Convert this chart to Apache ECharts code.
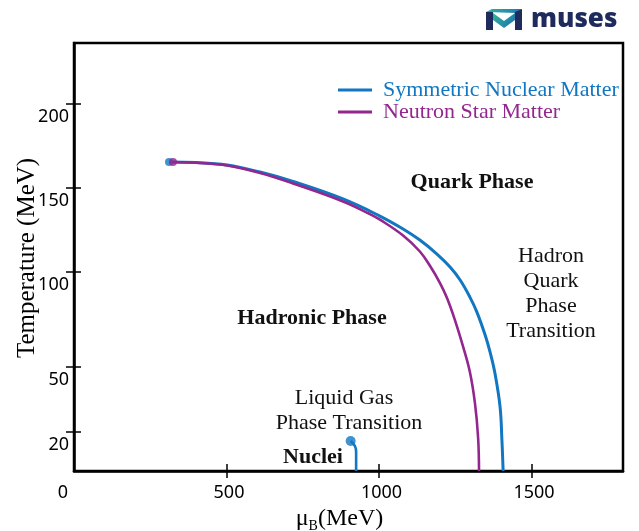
<!DOCTYPE html>
<html><head><meta charset="utf-8">
<script src="https://cdn.jsdelivr.net/npm/echarts@6/dist/echarts.min.js"></script>
<style>html,body{margin:0;padding:0;background:#fff}#c{width:639px;height:531px}</style>
</head><body><div id="c"></div>
<script>
// ---- data (mu_B in MeV, T in MeV) ----
const snmMu = [311.5, 400, 502, 610, 718, 882, 1003, 1079, 1134, 1190, 1233, 1266, 1298, 1321, 1348, 1364, 1380, 1397, 1403, 1407];
const snmT  = [165.5, 165.2, 163.7, 159.5, 153.9, 143.5, 133.3, 125.6, 119.0, 110.7, 103.0, 95.8, 86.8, 78.9, 66.8, 57.9, 47.2, 31.5, 15.9, 0];
const nsmMu = [324.6, 400, 502, 610, 718, 882, 970, 1003, 1079, 1134, 1167, 1200, 1223, 1249, 1275, 1298, 1315, 1325, 1328];
const nsmT  = [165.5, 165.0, 163.4, 158.9, 152.7, 142.0, 134.5, 131.2, 121.7, 112.2, 103.7, 94.2, 86.3, 74.7, 61.1, 47.7, 32.9, 16.9, 0];
const lgMu  = [907, 921, 925, 925];
const lgT   = [15.4, 12.8, 9.7, 0];
const snmCP = [311.5, 165.5];
const nsmCP = [324.6, 165.5];
const lgCP  = [907, 15.4];
const xTicks = [0, 500, 1000, 1500];
const yTicks = [20, 50, 100, 150, 200];
const seriesNames = ['Symmetric Nuclear Matter', 'Neutron Star Matter'];

// ---- non-uniform temperature scale of the schematic (T -> axis units) ----
const scaleT   = [0, 20, 50, 100, 150, 200];
const scalePos = [0, 39, 104, 199, 283, 367];
function toAxis(T) {
  for (let i = 1; i < scaleT.length; i++) {
    if (T <= scaleT[i] || i === scaleT.length - 1) {
      const t0 = scaleT[i-1], t1 = scaleT[i], p0 = scalePos[i-1], p1 = scalePos[i];
      return p0 + (T - t0) * (p1 - p0) / (t1 - t0);
    }
  }
}
function fromAxis(v) {
  for (let i = 0; i < scalePos.length; i++) if (Math.abs(scalePos[i] - v) < 1e-6) return scaleT[i];
  return '';
}
const pts = (mu, T) => mu.map((m, i) => [m, toAxis(T[i])]);

const BLUE = '#1177c2', PURPLE = '#93278f';
const serif = 'Liberation Serif';
const sans = 'Noto Sans';

const chart = echarts.init(document.getElementById('c'));
const tickY = yTicks.map(toAxis);

const option = {
  backgroundColor: '#fff',
  animation: false,
  grid: { left: 74, right: 16, top: 43, bottom: 60, show: true, borderColor: '#000', borderWidth: 2.5,
          containLabel: false, outerBoundsMode: 'none' },
  legend: {
    orient: 'vertical', left: 333, top: 74, itemGap: 0,
    itemWidth: 34, itemHeight: 3, icon: 'rect',
    textStyle: { fontFamily: serif, fontSize: 22, lineHeight: 21, padding: [0, 0, 0, 6] },
    data: [
      { name: seriesNames[0], textStyle: { color: BLUE } },
      { name: seriesNames[1], textStyle: { color: PURPLE } }
    ]
  },
  xAxis: [{
    type: 'value', min: 0, max: 1800, interval: 500,
    splitLine: { show: false },
    axisLine: { show: true, onZero: false, lineStyle: { color: '#000', width: 2.5 } },
    axisTick: { show: true, inside: false, length: 7, customValues: xTicks.slice(1), lineStyle: { color: '#000', width: 1.5 } },
    axisLabel: {
      customValues: xTicks, margin: 13, hideOverlap: false,
      fontFamily: sans, fontSize: 18, color: '#000',
      formatter: v => v === 0 ? '{z|0}' : '{n|' + v + '}',
      rich: { z: { fontFamily: sans, fontSize: 18, color: '#000', padding: [0, 22, 0, 0] },
              n: { fontFamily: sans, fontSize: 18, color: '#000', padding: [0, 0, 0, 5] } }
    },
    name: '{a|μ}{b|B}{a|(MeV)}', nameLocation: 'middle', nameGap: 28,
    nameTextStyle: {
      padding: [0, 18, 0, 0],
      rich: { a: { fontFamily: serif, fontSize: 24, color: '#000', lineHeight: 28 },
              b: { fontFamily: serif, fontSize: 14, color: '#000', lineHeight: 14, verticalAlign: 'bottom' } }
    }
  }, {
    type: 'value', min: 0, max: 1800, interval: 500, position: 'bottom',
    splitLine: { show: false }, axisLine: { show: false }, axisLabel: { show: false },
    axisTick: { show: true, inside: true, length: 7, customValues: xTicks.slice(1), lineStyle: { color: '#000', width: 1.5 } }
  }],
  yAxis: [{
    type: 'value', min: 0, max: 428,
    splitLine: { show: false },
    axisLine: { show: true, onZero: false, lineStyle: { color: '#000', width: 2.5 } },
    axisTick: { show: true, inside: false, length: 8, customValues: tickY, lineStyle: { color: '#000', width: 1.5 } },
    axisLabel: {
      customValues: tickY, margin: 5, fontFamily: sans, fontSize: 18, color: '#000',
      verticalAlign: 'top', padding: [4, 0, 0, 0],
      formatter: v => String(fromAxis(v))
    },
    name: 'Temperature (MeV)', nameLocation: 'middle', nameGap: 34, nameRotate: 90, nameMoveOverlap: false,
    nameTextStyle: { fontFamily: serif, fontSize: 25, color: '#000', padding: [0, 2, 0, 0] }
  }, {
    type: 'value', min: 0, max: 428, position: 'left',
    splitLine: { show: false }, axisLine: { show: false }, axisLabel: { show: false },
    axisTick: { show: true, inside: true, length: 7, customValues: tickY, lineStyle: { color: '#000', width: 1.5 } }
  }],
  series: [
    { name: seriesNames[0], type: 'line', data: pts(snmMu, snmT), smooth: 0.4, showSymbol: false,
      itemStyle: { color: BLUE }, lineStyle: { color: BLUE, width: 3 }, z: 3 },
    { name: seriesNames[1], type: 'line', data: pts(nsmMu, nsmT), smooth: 0.4, showSymbol: false,
      itemStyle: { color: PURPLE }, lineStyle: { color: PURPLE, width: 2.6 }, z: 4 },
    { name: 'Liquid Gas', type: 'line', data: pts(lgMu, lgT), smooth: 0.4, showSymbol: false,
      itemStyle: { color: BLUE }, lineStyle: { color: BLUE, width: 2.6 }, z: 3 },
    { name: 'cpSNM', type: 'scatter', data: [[snmCP[0], toAxis(snmCP[1])]], symbolSize: 8, itemStyle: { color: BLUE }, z: 5 },
    { name: 'cpNSM', type: 'scatter', data: [[nsmCP[0], toAxis(nsmCP[1])]], symbolSize: 8, itemStyle: { color: PURPLE }, z: 6 },
    { name: 'cpLG', type: 'scatter', data: [[lgCP[0], toAxis(lgCP[1])]], symbolSize: 10, itemStyle: { color: BLUE }, z: 5 }
  ],
  graphic: [
    { type: 'text', x: 472, y: 182, style: { text: 'Quark Phase', font: 'bold 22px "Liberation Serif"', fill: '#111', align: 'center', verticalAlign: 'middle' } },
    { type: 'text', x: 312, y: 318, style: { text: 'Hadronic Phase', font: 'bold 22px "Liberation Serif"', fill: '#111', align: 'center', verticalAlign: 'middle' } },
    { type: 'text', x: 313, y: 457, style: { text: 'Nuclei', font: 'bold 22px "Liberation Serif"', fill: '#111', align: 'center', verticalAlign: 'middle' } },
    { type: 'text', x: 551, y: 293.5, style: { text: 'Hadron\nQuark\nPhase\nTransition', font: '22px "Liberation Serif"', lineHeight: 25, fill: '#111', align: 'center', verticalAlign: 'middle' } },
    { type: 'text', x: 344, y: 398, style: { text: 'Liquid Gas', font: '22px "Liberation Serif"', fill: '#111', align: 'center', verticalAlign: 'middle' } },
    { type: 'text', x: 349, y: 423, style: { text: 'Phase Transition', font: '22px "Liberation Serif"', fill: '#111', align: 'center', verticalAlign: 'middle' } },
    // logo
    { type: 'polygon', shape: { points: [[486,12],[492,9],[522,9],[516,13]] },
      style: { fill: new echarts.graphic.LinearGradient(0,0,1,0,[{offset:0,color:'#2fb39a'},{offset:1,color:'#1f78b8'}]) } },
    { type: 'polygon', shape: { points: [[486,12],[493,12],[493,30],[486,30]] }, style: { fill: '#1e2b5c' } },
    { type: 'polygon', shape: { points: [[515,12],[522,9],[522,30],[515,30]] }, style: { fill: '#1e2b5c' } },
    { type: 'polygon', shape: { points: [[493,13],[504,21],[515,13],[515,20],[504,28],[493,20]] },
      style: { fill: new echarts.graphic.LinearGradient(0,0,1,1,[{offset:0,color:'#2fb39a'},{offset:1,color:'#1f6fb0'}]) } },
    { type: 'text', x: 531, y: 20, style: { text: 'muses', font: '800 26px "Open Sans"', fill: '#1e2b5c', align: 'left', verticalAlign: 'middle' } }
  ]
};
chart.setOption(option);
</script>
</body></html>
